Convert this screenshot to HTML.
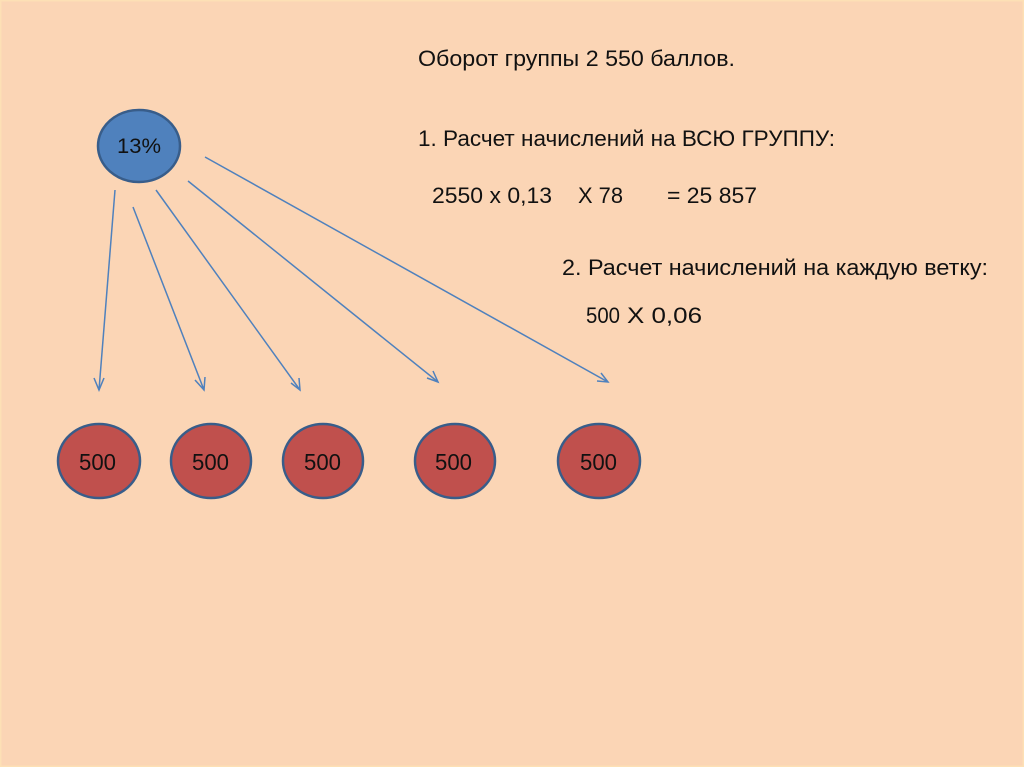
<!DOCTYPE html>
<html><head><meta charset="utf-8"><style>
html,body{margin:0;padding:0;width:1024px;height:767px;overflow:hidden;background:#fbd5b5}
</style></head><body>
<svg width="1024" height="767" viewBox="0 0 1024 767" xmlns="http://www.w3.org/2000/svg" font-family="'Liberation Sans', sans-serif">
<rect width="1024" height="767" fill="#fbd5b5"/>
<rect x="0" y="0" width="1024" height="767" fill="none" stroke="#fde0b5" stroke-width="3"/>
<g stroke="#4f81bd" stroke-width="1.5" fill="none">
<line x1="115" y1="190" x2="99" y2="390"/><polyline points="94,378 99,390 104,378"/>
<line x1="133" y1="207" x2="204" y2="390"/><polyline points="195,380 204,390 205,377"/>
<line x1="156" y1="190" x2="300" y2="390"/><polyline points="291,383 300,390 299,378"/>
<line x1="188" y1="181" x2="438" y2="382"/><polyline points="427,378 438,382 433,371"/>
<line x1="205" y1="157" x2="608" y2="382"/><polyline points="597,381 608,382 601,373"/>
</g>
<ellipse cx="139" cy="146" rx="41" ry="36" fill="#4f81bd" stroke="#385d8a" stroke-width="2.5"/>
<text x="139" y="153" font-size="21" text-anchor="middle" fill="#111" textLength="44" lengthAdjust="spacingAndGlyphs">13%</text>
<g fill="#c0504d" stroke="#385d8a" stroke-width="2.5">
<ellipse cx="99" cy="461" rx="41" ry="37"/>
<ellipse cx="211" cy="461" rx="40" ry="37"/>
<ellipse cx="323" cy="461" rx="40" ry="37"/>
<ellipse cx="455" cy="461" rx="40" ry="37"/>
<ellipse cx="599" cy="461" rx="41" ry="37"/>
</g>
<g font-size="23" fill="#111">
<text x="79" y="470" textLength="37" lengthAdjust="spacingAndGlyphs">500</text>
<text x="192" y="470" textLength="37" lengthAdjust="spacingAndGlyphs">500</text>
<text x="304" y="470" textLength="37" lengthAdjust="spacingAndGlyphs">500</text>
<text x="435" y="470" textLength="37" lengthAdjust="spacingAndGlyphs">500</text>
<text x="580" y="470" textLength="37" lengthAdjust="spacingAndGlyphs">500</text>
</g>
<g font-size="22" fill="#111">
<text x="418" y="66" textLength="317" lengthAdjust="spacingAndGlyphs">Оборот группы 2 550 баллов.</text>
<text x="418" y="146" textLength="417" lengthAdjust="spacingAndGlyphs">1. Расчет начислений на ВСЮ ГРУППУ:</text>
<text x="432" y="203" textLength="120" lengthAdjust="spacingAndGlyphs">2550 х 0,13</text>
<text x="578" y="203" textLength="45" lengthAdjust="spacingAndGlyphs">Х 78</text>
<text x="667" y="203" textLength="90" lengthAdjust="spacingAndGlyphs">= 25 857</text>
<text x="562" y="275" textLength="426" lengthAdjust="spacingAndGlyphs">2. Расчет начислений на каждую ветку:</text>
<text x="586" y="323" textLength="34" lengthAdjust="spacingAndGlyphs">500</text>
<text x="627" y="323" textLength="75" lengthAdjust="spacingAndGlyphs">Х 0,06</text>
</g>
</svg>
</body></html>
